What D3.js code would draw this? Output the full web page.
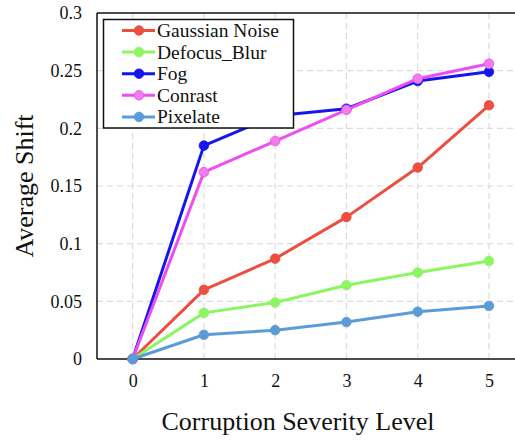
<!DOCTYPE html>
<html><head><meta charset="utf-8">
<script src="https://cdn.jsdelivr.net/npm/d3@7"></script>
<style>body{margin:0;background:#fff}svg{display:block}</style>
</head><body><svg id="c" width="515" height="441"></svg>
<script>
const levels = [0,1,2,3,4,5];
const yTicks = [0,0.05,0.1,0.15,0.2,0.25,0.3];
const seriesNames = ["Gaussian Noise","Defocus_Blur","Fog","Conrast","Pixelate"];
const gaussian = [0,0.060,0.087,0.123,0.166,0.220];
const defocus  = [0,0.040,0.049,0.064,0.075,0.085];
const fog      = [0,0.185,0.211,0.217,0.241,0.249];
const conrast  = [0,0.162,0.189,0.216,0.243,0.256];
const pixelate = [0,0.021,0.025,0.032,0.041,0.046];
const colors = ["#ec4f3f","#8cf562","#1515ee","#ee4ef0","#5b9bd8"];
const markerFill = ["#ec4f3f","#8cf562","#1515ee","#f07cf0","#5b9bd8"];
const values = [gaussian,defocus,fog,conrast,pixelate];

const FONT = "'Liberation Serif', 'Times New Roman', serif";
const svg = d3.select("#c");
const L=97, R=524.6, T=13, B=359;
const x = d3.scaleLinear().domain([-0.5,5.5]).range([L,R]);
const y = d3.scaleLinear().domain([0,0.3]).range([B,T]);

const g = svg.append("g");
g.selectAll(".vg").data(levels).enter().append("line")
 .attr("x1",d=>x(d)).attr("x2",d=>x(d)).attr("y1",T).attr("y2",B)
 .attr("stroke","#dcdcdc").attr("stroke-width",1.2).attr("stroke-dasharray","6,4");
g.selectAll(".hg").data(yTicks.slice(1,-1)).enter().append("line")
 .attr("x1",L).attr("x2",515).attr("y1",d=>y(d)).attr("y2",d=>y(d))
 .attr("stroke","#dcdcdc").attr("stroke-width",1.2).attr("stroke-dasharray","6,4");

const xAxis = d3.axisBottom(x).tickValues(levels).tickSize(0).tickPadding(15).tickFormat(d3.format("d"));
const yAxis = d3.axisLeft(y).tickValues(yTicks).tickSize(0).tickPadding(15).tickFormat(d=>d===0?"0":String(+d.toFixed(2)));
const gx = svg.append("g").attr("transform",`translate(0,${B})`).call(xAxis);
const gy = svg.append("g").attr("transform",`translate(${L},0)`).call(yAxis);
[gx,gy].forEach(a=>{a.attr("font-family",null).attr("font-size",null);a.select(".domain").remove();
  a.selectAll("text").style("font-size","18px").style("font-family",FONT).style("fill","#111");});
svg.append("line").attr("x1",L).attr("x2",515).attr("y1",B).attr("y2",B).attr("stroke","#111").attr("stroke-width",1.5);
svg.append("line").attr("x1",L).attr("x2",L).attr("y1",T).attr("y2",B).attr("stroke","#111").attr("stroke-width",1.5);
svg.append("line").attr("x1",L).attr("x2",515).attr("y1",T).attr("y2",T).attr("stroke","#111").attr("stroke-width",1.5);

const line = d3.line().x((d,i)=>x(levels[i])).y(d=>y(d));
values.forEach((vals,k)=>{
  svg.append("path").datum(vals).attr("d",line).attr("fill","none")
    .attr("stroke",colors[k]).attr("stroke-width",3).attr("stroke-linejoin","round");
  svg.selectAll(null).data(vals).enter().append("circle")
    .attr("cx",(d,i)=>x(levels[i])).attr("cy",d=>y(d)).attr("r",4.8)
    .attr("fill",markerFill[k]).attr("stroke",colors[k]).attr("stroke-width",0.8);
});

const lg = svg.append("g");
lg.append("rect").attr("x",103.5).attr("y",19.5).attr("width",190).attr("height",108.5)
  .attr("fill","#fff").attr("stroke","#111").attr("stroke-width",1.5);
seriesNames.forEach((n,k)=>{
  const yy = 30.5 + k*21.6;
  lg.append("line").attr("x1",122).attr("x2",155).attr("y1",yy).attr("y2",yy)
    .attr("stroke",colors[k]).attr("stroke-width",3);
  lg.append("circle").attr("cx",139).attr("cy",yy).attr("r",4.8).attr("fill",markerFill[k]).attr("stroke",colors[k]).attr("stroke-width",0.8);
  lg.append("text").attr("x",157).attr("y",yy+6.5).style("font-size","19.5px").style("font-family",FONT).style("fill","#111").text(n);
});

svg.append("text").attr("x",298).attr("y",430).attr("text-anchor","middle").style("font-size","26px").style("font-family",FONT).style("fill","#111").text("Corruption Severity Level");
svg.append("text").attr("transform","translate(33,186) rotate(-90)").attr("text-anchor","middle").style("font-size","26px").style("font-family",FONT).style("fill","#111").text("Average Shift");
</script></body></html>
